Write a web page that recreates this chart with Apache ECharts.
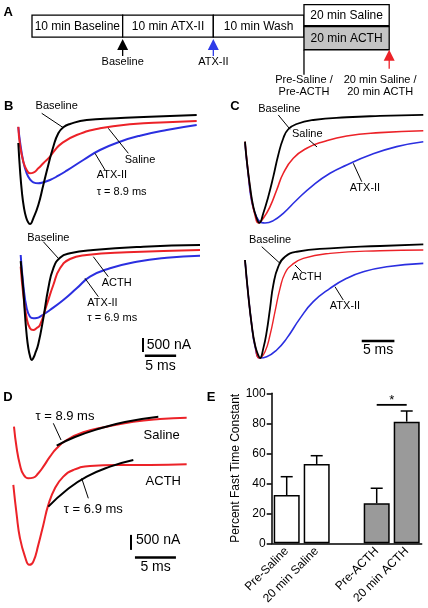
<!DOCTYPE html>
<html>
<head>
<meta charset="utf-8">
<script src="https://cdn.jsdelivr.net/npm/echarts@6/dist/echarts.min.js"></script>
<style>
html,body{margin:0;padding:0;background:#ffffff;}
#chart{width:428px;height:608px;}
</style>
</head>
<body>
<div id="chart"></div>
<script>
// ================= DATA =================
// Panel A: recording protocol (stages in schematic blocks)
const stageNames = ['10 min Baseline', '10 min ATX-II', '10 min Wash', '20 min Saline', '20 min ACTH'];
const stageFrom  = [0, 1, 2, 3, 3];
const stageTo    = [1, 2, 3, 3.94, 3.94];
const stageRow   = [0, 0, 0, 1, 2];           // 0 main row, 1 upper, 2 lower
const markerNames = ['Baseline', 'ATX-II', 'Pre-Saline /\nPre-ACTH', '20 min Saline /\n20 min ACTH'];
const markerAt    = [1, 2, 3, 3.94];

// Panel B (time ms, current nA) – top: saline experiment
const bTopBaseline = [[0.05,-1080],[0.32,-2052],[0.64,-2880],[0.96,-3420],[1.28,-3744],[1.6,-3924],[1.92,-3996],[2.45,-3791],[3.25,-3312],[4.05,-2592],[4.85,-1872],[5.65,-1213],[6.45,-731],[7.25,-515],[8.32,-396],[10.99,-252],[15.79,-191],[21.12,-133],[28.59,-72]];
const bTopSaline   = [[0.05,-493],[0.32,-1152],[0.85,-1753],[1.39,-2052],[1.92,-2171],[2.45,-2149],[3.25,-1991],[4.05,-1811],[5.12,-1573],[5.92,-1332],[6.99,-1091],[9.39,-792],[13.12,-551],[18.45,-396],[23.79,-335],[28.59,-288]];
const bTopATX      = [[0.05,-504],[0.32,-1033],[0.85,-1753],[1.39,-2171],[1.92,-2387],[2.45,-2495],[3.25,-2531],[4.05,-2495],[5.12,-2412],[6.45,-2257],[7.79,-2077],[10.45,-1692],[13.12,-1332],[16.32,-1033],[19.52,-817],[23.79,-612],[28.59,-432]];
// Panel B bottom: ACTH experiment
const bBotBaseline = [[0.43,-650],[0.85,-1692],[1.12,-2592],[1.39,-3312],[1.65,-3780],[1.92,-4068],[2.19,-4212],[2.45,-4140],[2.72,-3996],[3.25,-3636],[4.05,-2711],[4.85,-1631],[5.65,-911],[6.72,-529],[8.32,-371],[12.05,-252],[20.05,-133],[29.12,-72]];
const bBotACTH     = [[0.43,-853],[0.85,-1872],[1.39,-2711],[1.92,-3071],[2.45,-3132],[2.99,-3060],[3.52,-2952],[4.59,-2232],[5.65,-1512],[6.72,-911],[8.32,-576],[10.99,-432],[17.39,-335],[29.12,-252]];
const bBotATX      = [[0.43,-432],[0.85,-1512],[1.39,-2351],[1.92,-2653],[2.45,-2711],[2.99,-2700],[3.52,-2653],[5.12,-2412],[7.25,-2052],[9.39,-1631],[11.52,-1213],[14.72,-911],[18.99,-673],[23.79,-529],[29.12,-457]];

// Panel C (time ms, normalized current)
const cTopBaseline = [[0,-0.261],[0.26,-0.427],[0.77,-0.670],[1.27,-0.852],[1.79,-0.957],[2.19,-1.0],[2.80,-0.912],[3.56,-0.761],[4.33,-0.579],[5.09,-0.382],[5.86,-0.230],[6.62,-0.148],[7.91,-0.100],[10.45,-0.064],[15.56,-0.039],[20.66,-0.027],[27.28,-0.018]];
const cTopSaline   = [[0,-0.261],[0.50,-0.548],[1.03,-0.791],[1.53,-0.927],[2.03,-1.0],[2.80,-0.957],[3.83,-0.852],[4.85,-0.700],[5.86,-0.548],[7.39,-0.412],[9.44,-0.321],[11.98,-0.261],[15.56,-0.209],[20.66,-0.179],[27.28,-0.161]];
const cTopATX      = [[0,-0.275],[0.50,-0.564],[1.03,-0.806],[1.79,-0.948],[2.56,-0.997],[3.06,-1.0],[4.33,-0.979],[5.86,-0.912],[7.91,-0.791],[10.45,-0.655],[13.01,-0.548],[15.56,-0.473],[19.13,-0.382],[23.21,-0.306],[27.28,-0.261]];
const cBotBaseline = [[0,-0.148],[0.50,-0.452],[1.03,-0.713],[1.53,-0.887],[2.03,-0.974],[2.30,-1.0],[2.80,-0.916],[3.32,-0.771],[3.83,-0.568],[4.33,-0.365],[5.09,-0.206],[6.12,-0.119],[7.91,-0.076],[13.01,-0.046],[20.66,-0.026],[27.28,-0.011]];
const cBotACTH     = [[0,-0.148],[0.50,-0.452],[1.03,-0.713],[1.53,-0.887],[2.19,-1.0],[3.06,-0.945],[3.83,-0.800],[4.59,-0.597],[5.36,-0.394],[6.12,-0.263],[7.15,-0.191],[8.92,-0.133],[13.01,-0.090],[20.66,-0.067],[27.28,-0.061]];
const cBotATX      = [[0,-0.148],[0.50,-0.452],[1.03,-0.713],[1.53,-0.896],[2.30,-1.0],[3.32,-0.989],[4.85,-0.930],[6.38,-0.829],[8.42,-0.655],[10.45,-0.510],[13.01,-0.394],[15.56,-0.307],[18.10,-0.250],[21.68,-0.206],[27.28,-0.177]];

// Panel D (time ms, current nA) with exponential fits
const dSaline    = [[0.12,-390],[0.45,-1109],[0.85,-1665],[1.26,-1975],[1.87,-2108],[2.48,-2088],[3.09,-1941],[3.70,-1722],[4.51,-1389],[5.33,-1109],[6.55,-833],[8.58,-576],[11.43,-390],[14.68,-223],[17.93,-133],[21.19,-90]];
const dSalineFit = [[5.33,-1022],[7.56,-733],[10.61,-450],[13.66,-233],[17.73,-57]];
const dACTH      = [[0.04,-2331],[0.45,-3330],[0.85,-4106],[1.46,-4719],[1.99,-4995],[2.48,-4885],[3.09,-4329],[3.70,-3663],[4.31,-2997],[5.12,-2441],[6.14,-2055],[7.36,-1832],[9.39,-1698],[12.65,-1665],[16.71,-1665],[21.19,-1642]];
const dACTHFit   = [[4.31,-3054],[6.55,-2498],[8.99,-2055],[11.83,-1722],[14.68,-1499]];

// Scale bars
const scaleCurrent = 500;  // nA
const scaleTime = 5;       // ms

// Panel E: percent fast time constant
const eCats = ['Pre-Saline', '20 min Saline', '', 'Pre-ACTH', '20 min ACTH'];
const eMean = [32.2, 52.9, null, 26.7, 81.1];
const eErr  = [12.2, 5.5, null, 10.0, 7.1];
const eTicks = [0, 20, 40, 60, 80, 100];
const eSig = [3, 4, 92.3];   // bracket between Pre-ACTH and 20 min ACTH

// ================= STYLE / LAYOUT =================
const FONT = '"Liberation Sans", Arial, Helvetica, sans-serif';
const BLACK = '#000000', RED = '#ec2228', BLUE = '#2b2fe0', GRAY = '#9a9a9a';
const eFill = ['#ffffff', '#ffffff', null, GRAY, GRAY];
const ROW_TOP = [0.5, 0.98, -0.02], ROW_BOT = [-0.5, 0.02, -1.07];
const markerTipY = [-0.58, -0.58, -1.07, -1.07];
const markerKind = ['arrow', 'arrow', 'tick', 'arrow'];
const markerColor = [BLACK, '#2e3be8', BLACK, RED];
const markerLabelX = [1, 2, 3, 3.84];
const markerLabelY = [-1.63, -1.63, -2.72, -2.72];

function txt(text, x, y, size, align, weight) {
  return { text: text, x: x, y: y, font: (weight ? weight + ' ' : '') + size + 'px ' + FONT, fill: '#000',
    align: align || 'center', textAlign: align || 'center', verticalAlign: 'middle', textVerticalAlign: 'middle', lineHeight: 12 };
}

function trace(gi, data, color, w) {
  return { type: 'line', xAxisIndex: gi, yAxisIndex: gi, data: data, smooth: 0.5,
    symbol: 'none', showSymbol: false, clip: false, silent: true, lineStyle: { color: color, width: w, join: 'round' } };
}
function seg(gi, pts, w) {
  return { type: 'line', xAxisIndex: gi, yAxisIndex: gi, data: pts, symbol: 'none', showSymbol: false,
    clip: false, silent: true, z: 6, lineStyle: { color: BLACK, width: w } };
}
function labels(gi, items, size) {
  return { type: 'custom', xAxisIndex: gi, yAxisIndex: gi, clip: false, silent: true, z: 7,
    data: items.map(a => [a[0], a[1]]),
    renderItem: (p, api) => {
      const a = items[p.dataIndex];
      const c = api.coord([a[0], a[1]]);
      return { type: 'text', style: txt(a[2], c[0], c[1], size, a[3]) };
    } };
}

const grids = [
  { left: 32, top: 0, width: 357.2, height: 103.2 },     // A
  { left: 18, top: 98, width: 187.5, height: 132 },      // B top
  { left: 18, top: 233, width: 187.5, height: 140 },     // B bottom
  { left: 245, top: 100, width: 183, height: 130 },      // C top
  { left: 245, top: 233, width: 183, height: 130 },      // C bottom
  { left: 13, top: 405, width: 184.4, height: 170 },     // D
  { left: 271.7, top: 393.3, width: 150, height: 150 }   // E
];
const ranges = [
  [0, 3.94, -3.5, 1.19],
  [0, 30, -4212, 540],
  [0, 30, -4680, 360],
  [0, 28, -1.064, 0.118],
  [0, 28, -1.043, 0.087],
  [0, 22.5, -5333, 333]
];
const xAxes = [], yAxes = [];
ranges.forEach((r, i) => {
  xAxes.push({ gridIndex: i, type: 'value', min: r[0], max: r[1], show: false });
  yAxes.push({ gridIndex: i, type: 'value', min: r[2], max: r[3], show: false });
});
xAxes.push({ gridIndex: 6, type: 'category', data: eCats,
  axisLine: { lineStyle: { color: BLACK, width: 1.5 } }, axisTick: { show: false },
  axisLabel: { rotate: 45, interval: 0, margin: 6, fontSize: 12, color: BLACK, fontFamily: FONT } });
yAxes.push({ gridIndex: 6, type: 'value', min: eTicks[0], max: eTicks[eTicks.length - 1], interval: eTicks[1] - eTicks[0],
  axisLine: { show: true, lineStyle: { color: BLACK, width: 1.5 } },
  axisTick: { show: true, length: 5, lineStyle: { color: BLACK, width: 1.5 } },
  axisLabel: { fontSize: 12, color: BLACK, margin: 6, fontFamily: FONT },
  splitLine: { show: false },
  name: 'Percent Fast Time Constant', nameLocation: 'middle', nameGap: 30,
  nameTextStyle: { fontSize: 12, color: BLACK, fontFamily: FONT } });

const series = [];

// ----- Panel A -----
series.push({ type: 'custom', xAxisIndex: 0, yAxisIndex: 0, clip: false, silent: true,
  data: stageNames.map((n, i) => [stageFrom[i], stageTo[i], stageRow[i]]),
  renderItem: (p, api) => {
    const r = api.value(2);
    const p0 = api.coord([api.value(0), ROW_TOP[r]]);
    const p1 = api.coord([api.value(1), ROW_BOT[r]]);
    return { type: 'group', children: [
      { type: 'rect', shape: { x: p0[0], y: p0[1], width: p1[0] - p0[0], height: p1[1] - p0[1] },
        style: { fill: r === 2 ? '#c4c4c4' : '#ffffff', stroke: BLACK, lineWidth: 1.3 } },
      { type: 'text', style: txt(stageNames[p.dataIndex], (p0[0] + p1[0]) / 2, (p0[1] + p1[1]) / 2 + 0.5, 12) }
    ] };
  } });
series.push({ type: 'custom', xAxisIndex: 0, yAxisIndex: 0, clip: false, silent: true, z: 4,
  data: markerAt.map((x, i) => [x, i]),
  renderItem: (p, api) => {
    const i = p.dataIndex;
    const tip = api.coord([markerAt[i], markerTipY[i]]);
    const lab = api.coord([markerLabelX[i], markerLabelY[i]]);
    const ch = [];
    if (markerKind[i] === 'arrow') {
      const h = 11, stem = i === 3 ? 8 : 6;
      ch.push({ type: 'polygon', shape: { points: [[tip[0], tip[1]], [tip[0] - 5.5, tip[1] + h], [tip[0] + 5.5, tip[1] + h]] },
        style: { fill: markerColor[i] } });
      ch.push({ type: 'line', shape: { x1: tip[0], y1: tip[1] + h - 1, x2: tip[0], y2: tip[1] + h + stem },
        style: { stroke: markerColor[i], lineWidth: 1.3 } });
    } else {
      ch.push({ type: 'line', shape: { x1: tip[0], y1: tip[1], x2: tip[0], y2: tip[1] + 25 },
        style: { stroke: BLACK, lineWidth: 1.3 } });
    }
    ch.push({ type: 'text', style: txt(markerNames[i], lab[0], lab[1], 11) });
    return { type: 'group', children: ch };
  } });

// ----- Panel B -----
series.push(trace(1, bTopATX, BLUE, 2), trace(1, bTopSaline, RED, 2), trace(1, bTopBaseline, BLACK, 2));
series.push(seg(1, [[3.79, -11], [7.25, -529]], 1), seg(1, [[14.45, -551], [17.65, -1451]], 1), seg(1, [[12.32, -1451], [13.92, -2052]], 1));
series.push(labels(1, [[6.19, 252, 'Baseline'], [19.52, -1692, 'Saline'], [12.59, -2232, 'ATX-II', 'left'], [12.59, -2844, '\u03c4 = 8.9 ms', 'left']], 11));
series.push(trace(2, bBotATX, BLUE, 2), trace(2, bBotACTH, RED, 2), trace(2, bBotBaseline, BLACK, 2));
series.push(seg(2, [[4.05, 47], [6.45, -551]], 1), seg(2, [[12.05, -493], [14.45, -1213]], 1), seg(2, [[10.72, -1271], [12.85, -1933]], 1));
series.push(labels(2, [[4.85, 169, 'Baseline'], [15.79, -1451, 'ACTH'], [11.09, -2171, 'ATX-II', 'left'], [11.09, -2689, '\u03c4 = 6.9 ms', 'left']], 11));
series.push(seg(2, [[20, -3920], [20, -3920 + scaleCurrent]], 2), seg(2, [[20.3, -4060], [20.3 + scaleTime, -4060]], 2.5));
series.push(labels(2, [[20.6, -3672, scaleCurrent + ' nA', 'left'], [22.8, -4440, scaleTime + ' ms']], 14));

// ----- Panel C -----
series.push(trace(3, cTopATX, BLUE, 1.6), trace(3, cTopSaline, RED, 1.6), trace(3, cTopBaseline, BLACK, 1.8));
series.push(seg(3, [[5.09, -0.018], [6.89, -0.148]], 1), seg(3, [[9.79, -0.245], [11.02, -0.309]], 1), seg(3, [[16.57, -0.457], [17.86, -0.625]], 1));
series.push(labels(3, [[5.25, 0.034, 'Baseline'], [9.53, -0.194, 'Saline'], [18.36, -0.685, 'ATX-II']], 11));
series.push(trace(4, cBotATX, BLUE, 1.6), trace(4, cBotACTH, RED, 1.4), trace(4, cBotBaseline, BLACK, 1.8));
series.push(seg(4, [[2.56, -0.032], [5.36, -0.177]], 1), seg(4, [[7.65, -0.191], [8.68, -0.250]], 1), seg(4, [[13.77, -0.380], [15.04, -0.496]], 1));
series.push(labels(4, [[3.83, 0.026, 'Baseline'], [9.44, -0.293, 'ACTH'], [15.3, -0.549, 'ATX-II']], 11));
series.push(seg(4, [[17.86, -0.852], [17.86 + scaleTime, -0.852]], 2.5));
series.push(labels(4, [[20.36, -0.93, scaleTime + ' ms']], 14));

// ----- Panel D -----
series.push(trace(5, dSaline, RED, 2), trace(5, dACTH, RED, 2));
series.push(trace(5, dSalineFit, BLACK, 2), trace(5, dACTHFit, BLACK, 2));
series.push(seg(5, [[4.92, -277], [5.86, -833]], 1), seg(5, [[8.38, -2110], [9.19, -2777]], 1));
series.push(labels(5, [[6.34, -57, '\u03c4 = 8.9 ms'], [18.14, -667, 'Saline'], [18.34, -2223, 'ACTH'], [9.8, -3133, '\u03c4 = 6.9 ms']], 13));
series.push(seg(5, [[14.4, -4496], [14.4, -4496 + scaleCurrent]], 2), seg(5, [[14.88, -4752], [14.88 + scaleTime, -4752]], 2.5));
series.push(labels(5, [[15.0, -4170, scaleCurrent + ' nA', 'left'], [17.4, -5066, scaleTime + ' ms']], 14));

// ----- Panel E -----
series.push({ type: 'bar', xAxisIndex: 6, yAxisIndex: 6, barWidth: 26, silent: true,
  data: eMean.map((m, i) => m == null ? '-' : { value: m, itemStyle: { color: eFill[i], borderColor: BLACK, borderWidth: 1.5 } }) });
series.push({ type: 'custom', xAxisIndex: 6, yAxisIndex: 6, silent: true, z: 5,
  data: eMean.map((m, i) => [i, m, eErr[i]]).filter(d => d[1] != null),
  renderItem: (p, api) => {
    const b = api.coord([api.value(0), api.value(1)]);
    const t = api.coord([api.value(0), api.value(1) + api.value(2)]);
    return { type: 'group', children: [
      { type: 'line', shape: { x1: b[0], y1: b[1], x2: t[0], y2: t[1] }, style: { stroke: BLACK, lineWidth: 1.5 } },
      { type: 'line', shape: { x1: t[0] - 6, y1: t[1], x2: t[0] + 6, y2: t[1] }, style: { stroke: BLACK, lineWidth: 1.5 } }
    ] };
  } });
series.push({ type: 'custom', xAxisIndex: 6, yAxisIndex: 6, silent: true, clip: false, z: 5,
  data: [eSig],
  renderItem: (p, api) => {
    const a = api.coord([api.value(0), api.value(2)]);
    const b = api.coord([api.value(1), api.value(2)]);
    return { type: 'group', children: [
      { type: 'line', shape: { x1: a[0], y1: a[1], x2: b[0], y2: b[1] }, style: { stroke: BLACK, lineWidth: 1.8 } },
      { type: 'text', style: txt('*', (a[0] + b[0]) / 2, a[1] - 4, 13) }
    ] };
  } });

const panelLetters = [['A', 8.3, 12], ['B', 8.7, 106.3], ['C', 235, 106.7], ['D', 8, 397.5], ['E', 211, 397.5]];

const chart = echarts.init(document.getElementById('chart'), null, { renderer: 'canvas' });
chart.setOption({
  animation: false,
  backgroundColor: '#ffffff',
  textStyle: { fontFamily: FONT },
  grid: grids,
  xAxis: xAxes,
  yAxis: yAxes,
  series: series,
  graphic: panelLetters.map(l => ({ type: 'text', x: l[1], y: l[2], silent: true,
    style: txt(l[0], 0, 0, 13, 'center', 'bold') }))
});
</script>
</body>
</html>
